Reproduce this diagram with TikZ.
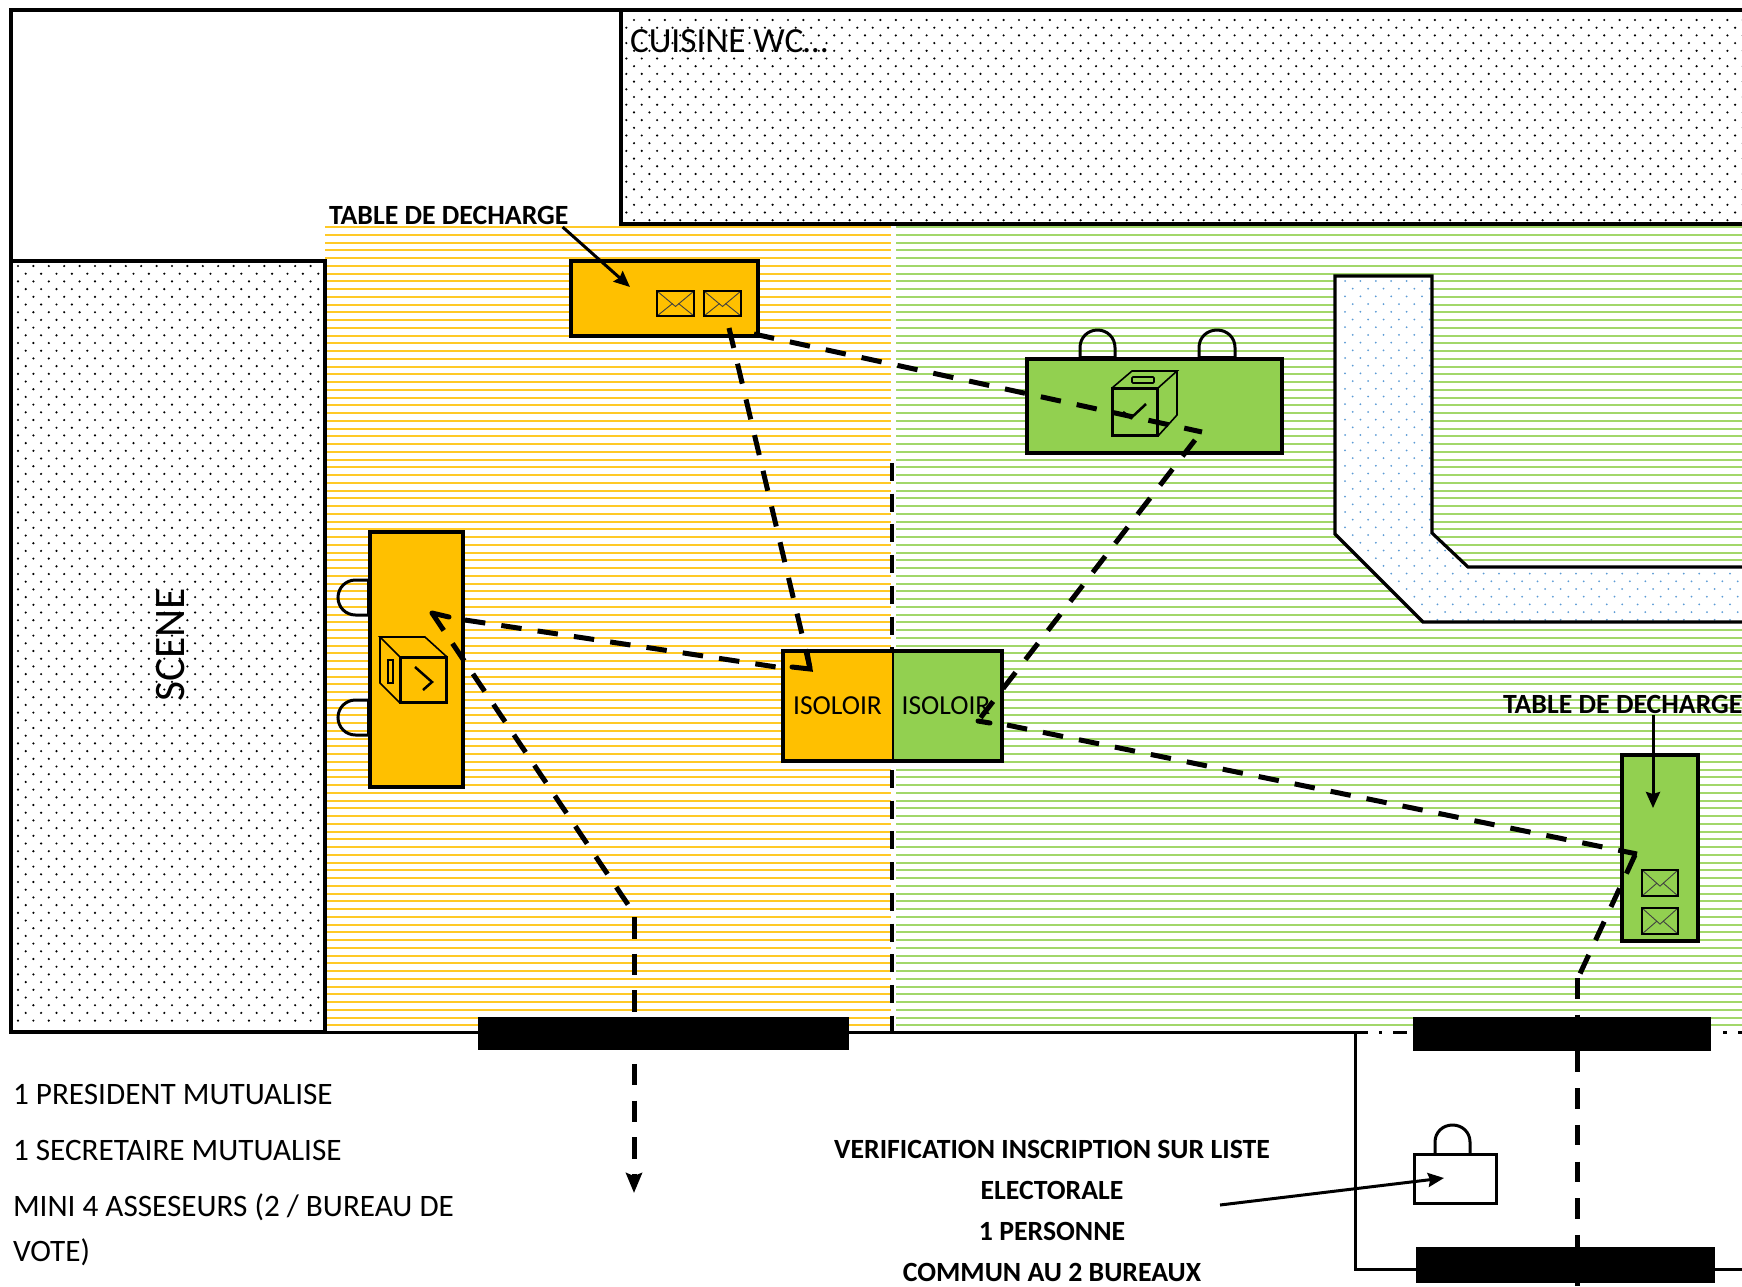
\documentclass[tikz,border=0pt]{standalone}
\usepackage{fontspec}
\setmainfont{Carlito}
\usetikzlibrary{arrows.meta}
\definecolor{orangeZ}{HTML}{FFC000}
\definecolor{greenZ}{HTML}{92D050}
\definecolor{blueDot}{HTML}{5B9BD5}
\tikzset{
  every node/.style={inner sep=0pt,outer sep=0pt,text=black},
  wall/.style={draw=black,line width=3.2pt,line join=miter},
  tablebox/.style={draw=black,line width=3.5pt},
  route/.style={draw=black,line width=5pt,dash pattern=on 20.5pt off 16.2pt},
  barb/.style={draw=black,line width=5pt,line cap=round},
  divider/.style={draw=black,line width=3.5pt,dash pattern=on 18pt off 12.7pt},
  pointer/.style={draw=black,line width=3pt,-{Stealth[length=16pt,width=14pt,inset=2pt]}},
  txt/.style={font=\fontsize{31.2}{31.2}\selectfont,anchor=base west},
  boldtxt/.style={font=\fontsize{27.8}{27.8}\selectfont\bfseries,anchor=base},
  chair/.style={draw=black,line width=3pt},
  cube/.style={draw=black,line width=1.6pt},
  cubeface/.style={draw=black,line width=3pt},
  doorbar/.style={fill=black}
}
\newcommand{\envel}[4]{%
  \draw[black!75,line width=0.9pt] (#1,#2) -- ({(#1+#3)/2},{#2+0.62*(#4-#2)}) -- (#3,#2);
  \draw[black!75,line width=0.9pt] (#1,#4) -- ({(#1+#3)/2-3},{#2+0.5*(#4-#2)});
  \draw[black!75,line width=0.9pt] (#3,#4) -- ({(#1+#3)/2+3},{#2+0.5*(#4-#2)});
  \draw[black,line width=2pt] (#1,#2) rectangle (#3,#4);
}
\newcommand{\chairup}[4]{% x1 x2 ytop ybase
  \draw[chair] (#1,#4) -- (#1,{#3+17.5}) .. controls (#1,{#3+7.8}) and ({#1+7.7},#3) .. ({(#1+#2)/2},#3)
     .. controls ({#2-7.7},#3) and (#2,{#3+7.8}) .. (#2,{#3+17.5}) -- (#2,#4);
  \draw[black,line width=4.5pt] (#1,{#4-1}) -- (#2,{#4-1});
}
\newcommand{\chairleft}[4]{% y1 y2 xleft xbase
  \draw[chair] (#4,#1) -- ({#3+17.5},#1) .. controls ({#3+7.8},#1) and (#3,{#1+7.7}) .. (#3,{(#1+#2)/2})
     .. controls (#3,{#2-7.7}) and ({#3+7.8},#2) .. ({#3+17.5},#2) -- (#4,#2);
  \draw[black,line width=4.5pt] ({#4-1},#1) -- ({#4-1},#2);
}
\begin{document}
\begin{tikzpicture}[x=1pt,y=-1pt]
\useasboundingbox (0,0) rectangle (1742,1286);
\clip (0,0) rectangle (1742,1286);
\fill[white] (0,0) rectangle (1742,1286);

% hatched floor
\foreach \k in {0,...,103} {
  \draw[orangeZ!85,line width=2pt] (325,{227+\k*7.75}) -- (891,{227+\k*7.75});
  \draw[greenZ!85,line width=2pt] (896,{227+\k*7.75}) -- (1742,{227+\k*7.75});
}

% kitchen
\fill[white] (621,10) rectangle (1742,224);
\fill[black] \foreach \r in {0,...,26} \foreach \c in {0,...,73}
  { ({634-7.7*mod(\r,2)+\c*15.4},{20+\r*7.7}) circle (1.2) };
\draw[wall,line width=3.5pt] (1750,10) -- (621,10) -- (621,224) -- (1750,224);

% outer walls
\draw[wall] (621,10) -- (11,10) -- (11,1032);

% scene
\fill[white] (11,261) rectangle (325,1032);
\fill[black] \foreach \r in {0,...,98} \foreach \c in {0,...,19}
  { ({18+7.7*mod(\r,2)+\c*15.4},{266+\r*7.7}) circle (1.2) };
\draw[wall] (11,261) rectangle (325,1032);

% corridor
\fill[white] (1335,276) -- (1432,276) -- (1432,533) -- (1468,567) -- (1760,567) -- (1760,622) -- (1423,622) -- (1335,534) -- cycle;
\begin{scope}
\clip (1335,276) -- (1432,276) -- (1432,533) -- (1468,567) -- (1760,567) -- (1760,622) -- (1423,622) -- (1335,534) -- cycle;
\fill[blueDot] \foreach \r in {0,...,44} \foreach \c in {0,...,27}
  { ({1345+7.7*mod(\r,2)+\c*15.4},{281+\r*7.7}) circle (1) };
\end{scope}
\draw[wall] (1760,567) -- (1468,567) -- (1432,533) -- (1432,276) -- (1335,276) -- (1335,534) -- (1423,622) -- (1760,622);

% divider
\draw[divider] (892,463) -- (892,1032);

% bottom wall
\draw[black,line width=3pt] (11,1032) -- (1368,1032);
\draw[black,line width=3pt] (1379,1032) -- (1382,1032);
\draw[black,line width=3pt] (1393,1032) -- (1407,1032);
\draw[black,line width=3pt] (1723,1032) -- (1727,1032);
\draw[black,line width=3pt] (1738,1032) -- (1742,1032);

% entry room
\draw[black,line width=3pt] (1355,1032) -- (1355,1269) -- (1416,1269);
\draw[black,line width=3pt] (1715,1269) -- (1742,1269);

% orange voting table
\chairleft{580}{615}{338}{370}
\chairleft{700}{735}{338}{370}
\draw[tablebox,fill=orangeZ] (370,532) rectangle (463,787);
\draw[cube] (400,657) -- (380,637) -- (425,637) -- (447,657);
\draw[cube] (380,637) -- (380,683) -- (400,703);
\draw[cube] (388,660) rectangle (393,683);
\draw[cubeface] (400,657) rectangle (446,702);
\draw[black,line width=2.5pt] (415,667) -- (432,682) -- (423,690);

% orange discharge table
\draw[tablebox,fill=orangeZ] (571,261) rectangle (758,336);
\envel{657}{291}{694}{316}
\envel{704}{291}{741}{316}

% green voting table
\chairup{1080}{1115}{330}{359}
\chairup{1199}{1235}{330}{359}
\draw[tablebox,fill=greenZ] (1027,359) rectangle (1282,453);
\draw[cube] (1112,388) -- (1132,371) -- (1177,371) -- (1158,388);
\draw[cube] (1177,371) -- (1177,415) -- (1158,436);
\draw[cube,rounded corners=1pt] (1132,377) rectangle (1154,383);
\draw[cubeface] (1112,388) rectangle (1157,435);
\draw[black,line width=2.5pt] (1123,412) -- (1131,418) -- (1146,404);

% green discharge table
\draw[tablebox,fill=greenZ] (1622,755) rectangle (1698,941);
\envel{1642}{870}{1678}{896}
\envel{1642}{908}{1678}{934}

% isoloirs
\fill[orangeZ] (783,650) rectangle (893,761);
\fill[greenZ] (893,650) rectangle (1002,761);
\draw[black,line width=1.5pt] (893,650) -- (893,761);
\draw[tablebox] (783,651) rectangle (1002,761);
\node[font=\fontsize{27.5}{27.5}\selectfont,anchor=base] (isoa) at (837.5,714) {ISOLOIR};
\node[font=\fontsize{27.5}{27.5}\selectfont,anchor=base] (isob) at (946,714) {ISOLOIR};

% padlock desk
\draw[black,line width=3pt] (1414,1154) rectangle (1496,1203);
\draw[black,line width=3pt] (1435,1154) -- (1435,1142) .. controls (1435,1132) and (1443,1125) .. (1452.5,1125) .. controls (1462,1125) and (1470,1132) .. (1470,1142) -- (1470,1154);

% routes
\draw[route,dash pattern=on 21pt off 15.7pt] (432,613) -- (633,912);
\draw[route,dash pattern=on 21.5pt off 15.2pt,-{Stealth[length=20pt,width=16pt,inset=3pt]}] (634,917) -- (634,1193);
\draw[barb] (432,613) -- (449,617);
\draw[route] (465,620) -- (783,668);
\draw[route] (729,328) -- (810,668);
\draw[barb] (807,652) -- (810,669) -- (792,667);
\draw[route] (754,334) -- (1202,432);
\draw[route] (1195,440) -- (978,721);
\draw[barb] (978,721) -- (990,723);
\draw[route] (1007,725) -- (1637,854);
\draw[route] (1635,855) -- (1578,978);
\draw[route] (1577,978) -- (1577,1286);

% door bars
\fill[doorbar] (478,1017) rectangle (849,1050);
\fill[doorbar] (1413,1017) rectangle (1711,1051);
\fill[doorbar] (1416,1247) rectangle (1715,1283);

% pointers
\draw[pointer] (562.6,227) -- (630,287);
\draw[pointer] (1653,715) -- (1653,808);
\draw[pointer] (1220,1205) -- (1444,1178);

% labels
\node[font=\fontsize{35.3}{35.3}\selectfont,anchor=base west] (cuisine) at (630,52) {CUISINE WC…};
\node[font=\fontsize{43.5}{43.5}\selectfont,anchor=base,rotate=90] (scene) at (184,645) {SCENE};
\node[boldtxt,anchor=base west] (tda) at (329,224) {TABLE DE DECHARGE};
\node[boldtxt,anchor=base west] (tdb) at (1503,713) {TABLE DE DECHARGE};
\node[txt] (l1) at (13,1104) {1 PRESIDENT MUTUALISE};
\node[txt] (l2) at (13,1160) {1 SECRETAIRE MUTUALISE};
\node[txt] (l3) at (13,1216) {MINI 4 ASSESEURS (2 / BUREAU DE};
\node[txt] (l4) at (13,1261) {VOTE)};
\node[boldtxt] (v1) at (1052,1158) {VERIFICATION INSCRIPTION SUR LISTE};
\node[boldtxt] (v2) at (1052,1199) {ELECTORALE};
\node[boldtxt] (v3) at (1052,1240) {1 PERSONNE};
\node[boldtxt] (v4) at (1052,1281) {COMMUN AU 2 BUREAUX};
\end{tikzpicture}
\end{document}
